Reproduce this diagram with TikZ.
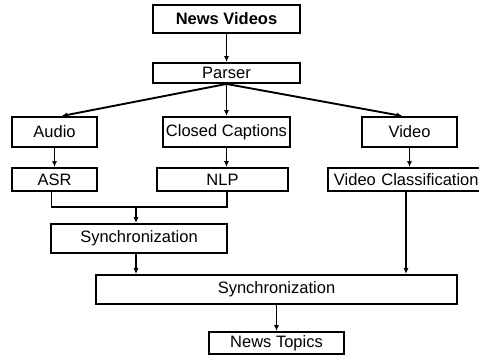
\documentclass[tikz,border=0pt]{standalone}
\usepackage{fontspec}
\setmainfont{Liberation Sans}
\usetikzlibrary{arrows.meta}
\tikzset{
    box/.style={draw, line width=1.9pt, inner sep=0pt, font=\fontsize{16.5}{19}\selectfont},
    arr/.style={line width=1.9pt, -{Latex[length=6pt,width=5pt]}}
}
\begin{document}
\begin{tikzpicture}[x=1pt,y=-1pt]
        \useasboundingbox (0,0) rectangle (479,358);
        \node[box, minimum width=147pt, minimum height=28pt, font=\fontsize{16.5}{19}\selectfont\bfseries] (news) at (226.5,19) {News Videos};
        \node[box, minimum width=147pt, minimum height=20pt] (parser) at (226.5,73) {Parser};
        \node[box, minimum width=85pt, minimum height=30pt] (audio) at (54.5,132) {Audio};
        \node[box, minimum width=127pt, minimum height=30pt] (cc) at (226.5,132) {Closed Captions};
        \node[box, minimum width=95pt, minimum height=30pt] (video) at (409.5,132) {Video};
        \node[box, minimum width=85pt, minimum height=23pt] (asr) at (54.5,179.5) {ASR};
        \node[box, minimum width=131pt, minimum height=23pt] (nlp) at (222.5,179.5) {NLP};
        \node[box, minimum width=170pt, minimum height=23pt, anchor=west, align=left, text width=158pt, inner xsep=6pt] (vc) at (327,179.5) {Video Classification};
        \node[box, minimum width=176pt, minimum height=29pt] (syncA) at (139,238.5) {Synchronization};
        \node[box, minimum width=361pt, minimum height=29pt] (syncB) at (276.5,289.5) {Synchronization};
        \node[box, minimum width=135pt, minimum height=22pt] (topics) at (276.5,343) {News Topics};
        \coordinate (joint) at (136,207);
        \coordinate (vcdown) at (406,191);
        \draw[arr] (news) -- (parser);
        \draw[arr] (parser.south) -- ([xshift=7pt]audio.north);
        \draw[arr] (parser.south) -- (cc.north);
        \draw[arr] (parser.south) -- ([xshift=-7pt]video.north);
        \draw[arr] (audio.south) -- (asr.north);
        \draw[arr] (cc.south) -- (cc.south |- nlp.north);
        \draw[arr] (video.south) -- (video.south |- vc.north);
        \draw[line width=1.9pt] ([xshift=-3pt]asr.south) |- (joint) -| ([xshift=4.5pt]nlp.south);
        \draw[arr] (joint) -- (joint |- syncA.north);
        \draw[arr] (joint |- syncA.south) -- (joint |- syncB.north);
        \draw[arr] (vcdown) -- (vcdown |- syncB.north);
        \draw[arr] (syncB) -- (topics);
\end{tikzpicture}
\end{document}
